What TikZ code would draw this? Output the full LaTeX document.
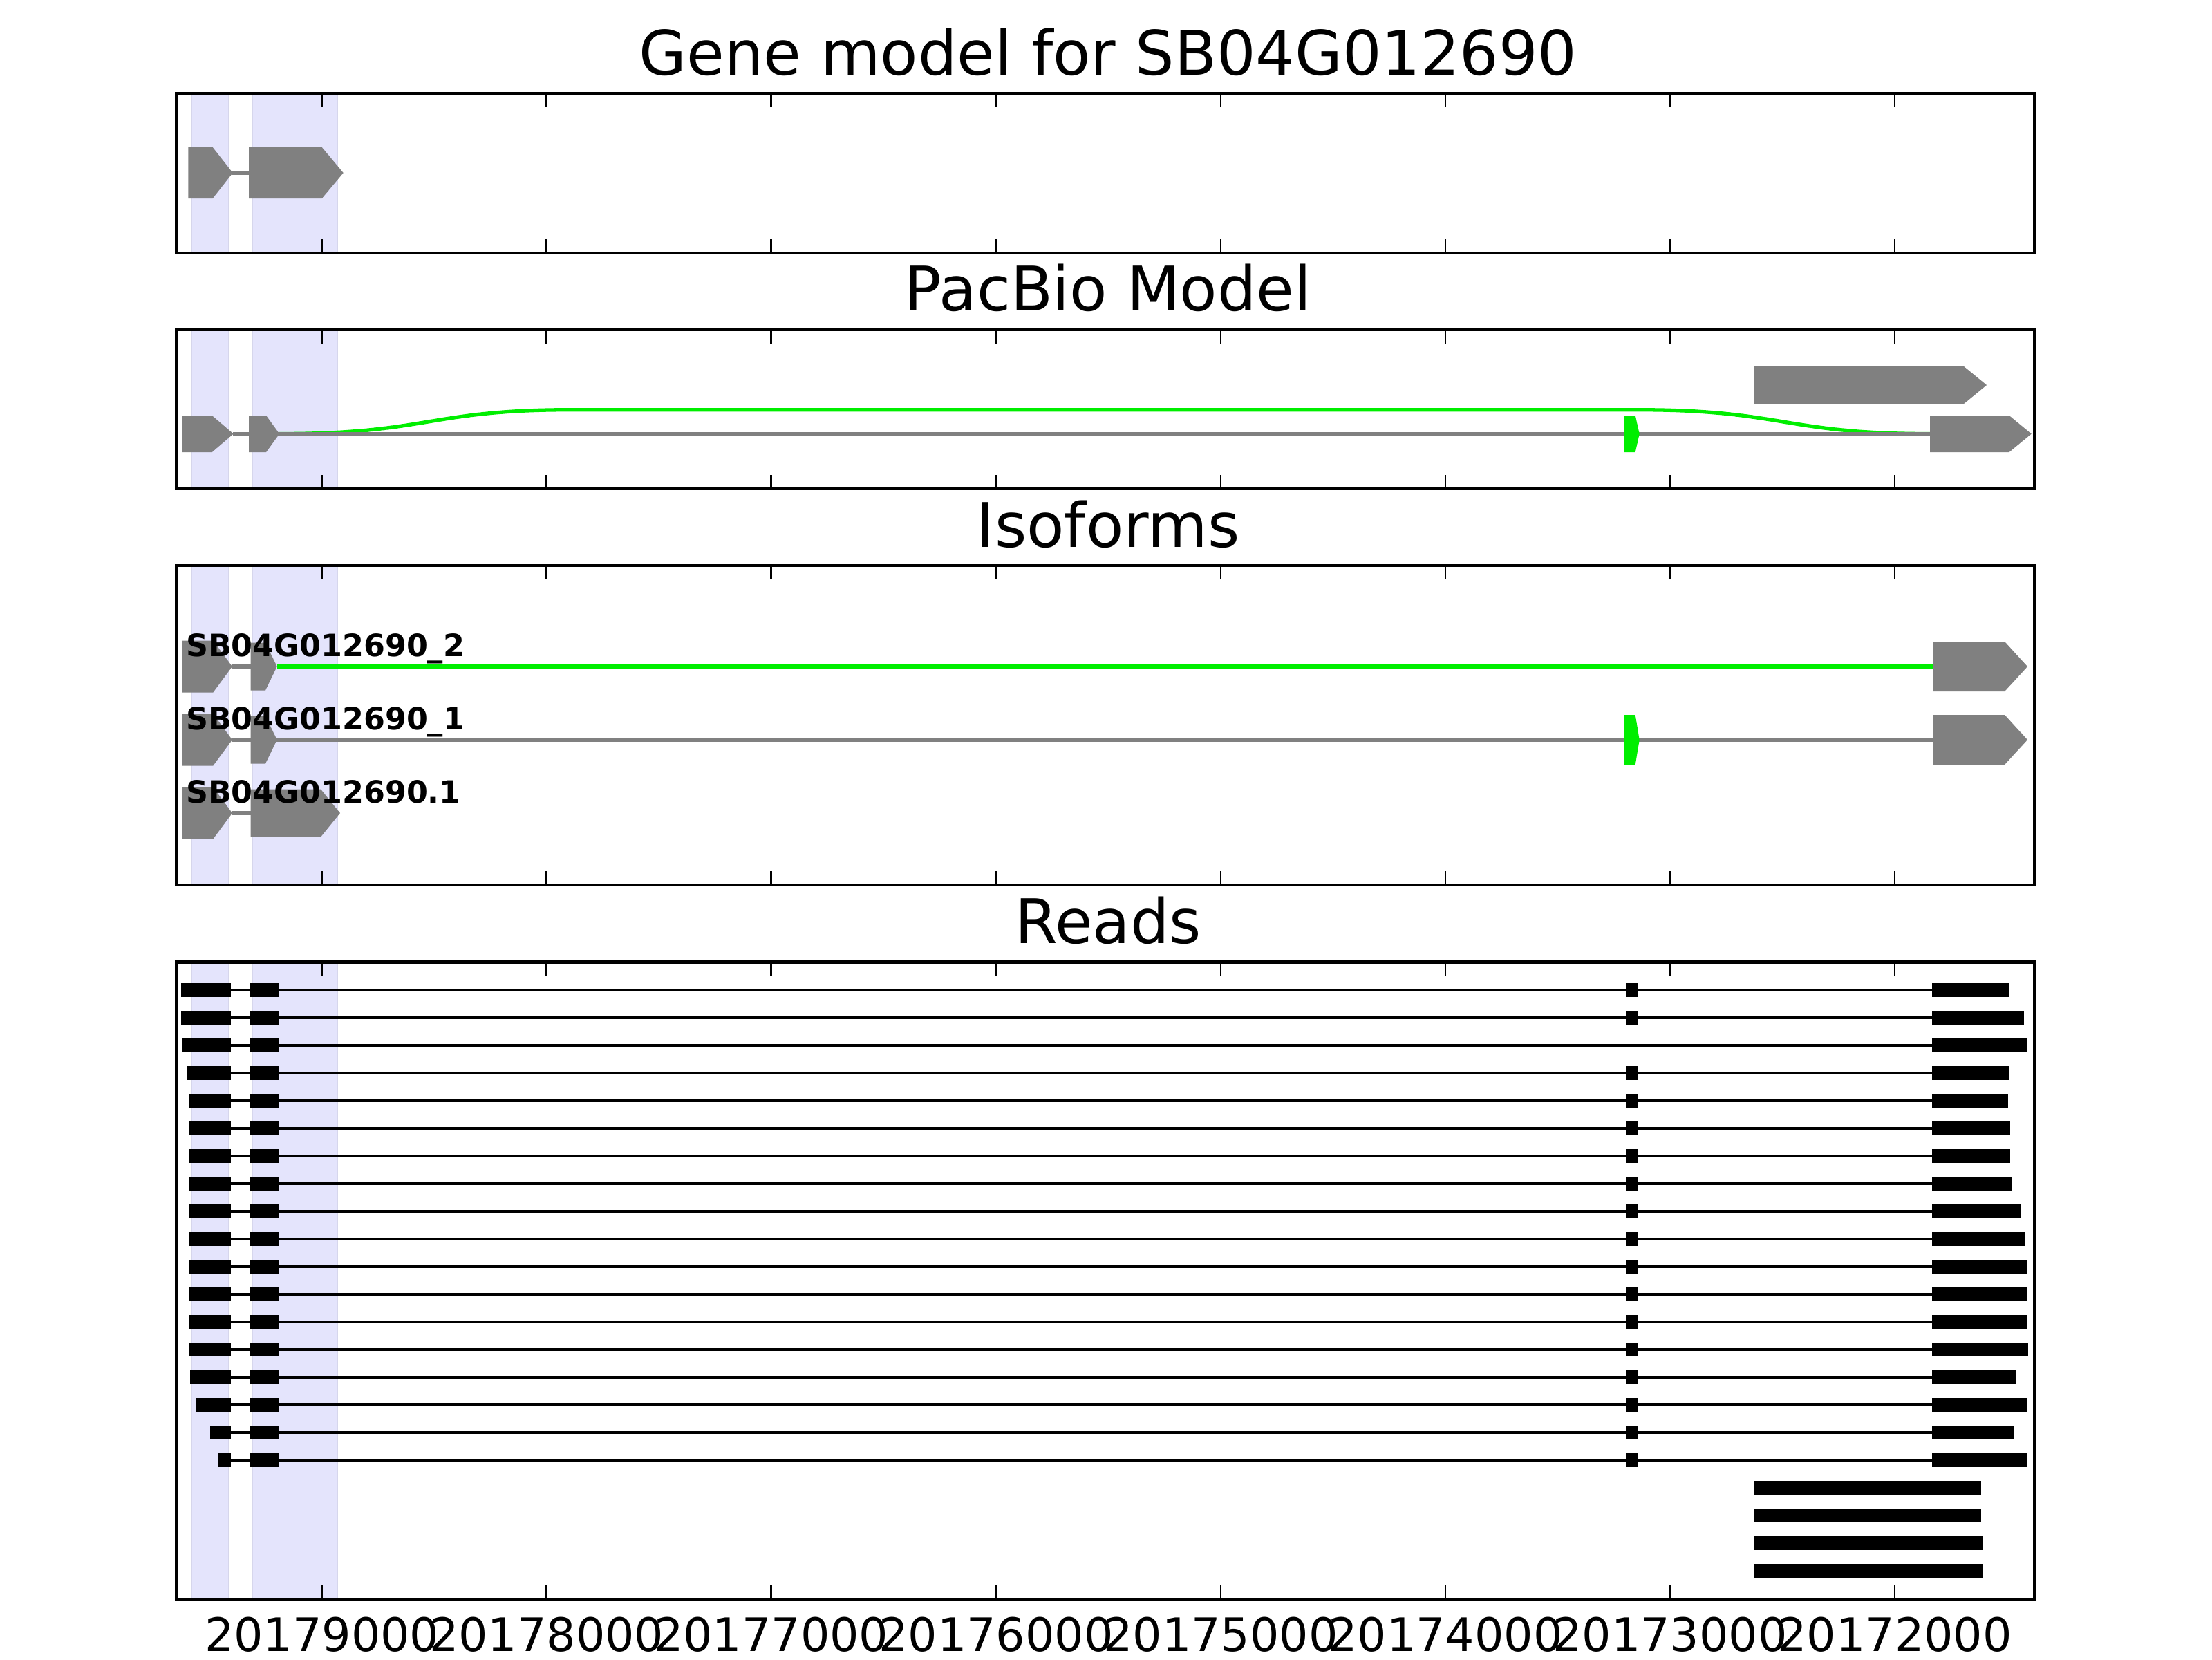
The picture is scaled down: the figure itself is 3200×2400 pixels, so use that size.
\documentclass[tikz,border=0pt]{standalone}
\usepackage{fontspec}
\setmainfont{DejaVu Sans}
\definecolor{exongray}{RGB}{128,128,128}
\definecolor{pbgreen}{RGB}{0,238,0}
\definecolor{bandfill}{RGB}{228,228,252}
\definecolor{bandedge}{RGB}{214,214,236}

% pentagon exon: colour, x start, x shoulder, x tip, y centre, half height
\newcommand{\exonarrow}[6]{%
  \fill[#1] (#2,#5-#6) -- (#3,#5-#6) -- (#4,#5) -- (#3,#5+#6) -- (#2,#5+#6) -- cycle;}

\begin{document}
\begin{tikzpicture}[x=0.18pt, y=-0.18pt,
    frame/.style={draw, line width=0.8pt},
    band/.style={fill=bandfill, draw=bandedge, line width=0.4pt},
    tickmark/.style={line width=0.5pt},
    intron/.style={exongray, line width=0.95pt},
    pbline/.style={pbgreen, line width=0.95pt},
    readline/.style={line width=0.8pt},
    paneltitle/.style={anchor=base, font=\fontsize{16}{19}\selectfont},
    ticklabel/.style={anchor=base, font=\fontsize{12}{14}\selectfont},
    isolabel/.style={anchor=base west, inner sep=0pt, font=\bfseries\fontsize{8}{10}\selectfont}
]
\useasboundingbox (0,0) rectangle (3200,2400);

% highlighted exon regions
\foreach \top/\bot in {135/366, 476.5/707, 818/1280, 1391.5/2313} {
  \draw[band] (277.3,\top) rectangle (330.7,\bot);
  \draw[band] (365.3,\top) rectangle (488.3,\bot);
}

% gene model
\draw[intron] (336,250) -- (360,250);
\exonarrow{exongray}{272.3}{307.7}{336.7}{250}{37}
\exonarrow{exongray}{360}{465.7}{496.7}{250}{37}

% pacbio model
\draw[pbline] (404,627.5) .. controls (620,627.5) and (620,592.7) .. (826,592.7)
  -- (2369,592.7) .. controls (2580,592.7) and (2580,627.5) .. (2792,627.5);
\draw[intron] (337,627.5) -- (2792,627.5);
\exonarrow{exongray}{263.3}{306.7}{337.7}{627.5}{26.5}
\exonarrow{exongray}{360}{385}{404.3}{627.5}{26.5}
\exonarrow{exongray}{2792}{2906.5}{2938.7}{627.5}{26.5}
\exonarrow{exongray}{2538}{2841}{2874}{557}{27}
\exonarrow{pbgreen}{2350}{2365.7}{2371.7}{627.5}{26.5}

% isoforms
\draw[intron] (336,964) -- (362.7,964);
\draw[pbline] (400.7,964) -- (2796,964);
\exonarrow{exongray}{263.3}{308.3}{336}{964}{37.5}
\exonarrow{exongray}{362.7}{384}{400.7}{964}{34.5}
\exonarrow{exongray}{2796}{2900}{2933}{964}{36}
\draw[intron] (336,1070) -- (2796,1070);
\exonarrow{exongray}{263.3}{308.3}{336}{1070}{37.5}
\exonarrow{exongray}{362.7}{384}{400.7}{1070}{34.5}
\exonarrow{exongray}{2796}{2900}{2933}{1070}{36}
\exonarrow{pbgreen}{2350}{2365.7}{2371.7}{1070}{36}
\draw[intron] (336,1176) -- (362.7,1176);
\exonarrow{exongray}{263.3}{308.3}{336}{1176}{37.5}
\exonarrow{exongray}{362.7}{464}{492}{1176}{34.5}
\node[isolabel] (iso2) at (268,949) {SB04G012690\_2};
\node[isolabel] (iso1) at (268,1055) {SB04G012690\_1};
\node[isolabel] (isoref) at (268,1161) {SB04G012690.1};

% reads
\foreach \s/\e [count=\r] in {262/2905.8, 262/2927.7, 264/2933, 271/2905.8, 273/2905,
    273/2907.6, 273/2907.6, 273/2910.7, 273/2923.7, 273/2929.5, 273/2932, 273/2933,
    273/2933, 273/2933.5, 275/2917, 283.3/2933, 304/2913, 315/2933} {
  \pgfmathsetmacro{\y}{1432+40*(\r-1)}
  \draw[readline] (334,\y) -- (2794.6,\y);
  \fill (\s,\y-10.3) rectangle (334,\y+10.3);
  \fill (362,\y-10.3) rectangle (403,\y+10.3);
  \fill (2794.6,\y-10.3) rectangle (\e,\y+10.3);
}
\foreach \r in {1,2,4,5,...,18} {
  \pgfmathsetmacro{\y}{1432+40*(\r-1)}
  \fill (2352,\y-10.3) rectangle (2370,\y+10.3);
}
\foreach \e [count=\r from 19] in {2865.6, 2865.6, 2868.8, 2868.8} {
  \pgfmathsetmacro{\y}{1432+40*(\r-1)}
  \fill (2538,\y-10.3) rectangle (\e,\y+10.3);
}

% frames and ticks
\foreach \top/\bot in {135/366, 476.5/707, 818/1280, 1391.5/2313} {
  \draw[frame] (255.7,\top) rectangle (2943,\bot);
  \foreach \k in {0,...,7} {
    \draw[tickmark] (465.7+325.05*\k,\top) -- ++(0,20);
    \draw[tickmark] (465.7+325.05*\k,\bot) -- ++(0,-20);
  }
}

% titles
\node[paneltitle] (genetitle) at (1603,108) {Gene model for SB04G012690};
\node[paneltitle] (pacbiotitle) at (1603,449.5) {PacBio Model};
\node[paneltitle] (isotitle) at (1603,791) {Isoforms};
\node[paneltitle] (readstitle) at (1603,1364.5) {Reads};

% axis labels
\foreach \lab [count=\k from 0] in {20179000, 20178000, 20177000, 20176000,
    20175000, 20174000, 20173000, 20172000}
  \node[ticklabel] (tick\k) at (465.7+325.05*\k,2388) {\lab};
\end{tikzpicture}
\end{document}
